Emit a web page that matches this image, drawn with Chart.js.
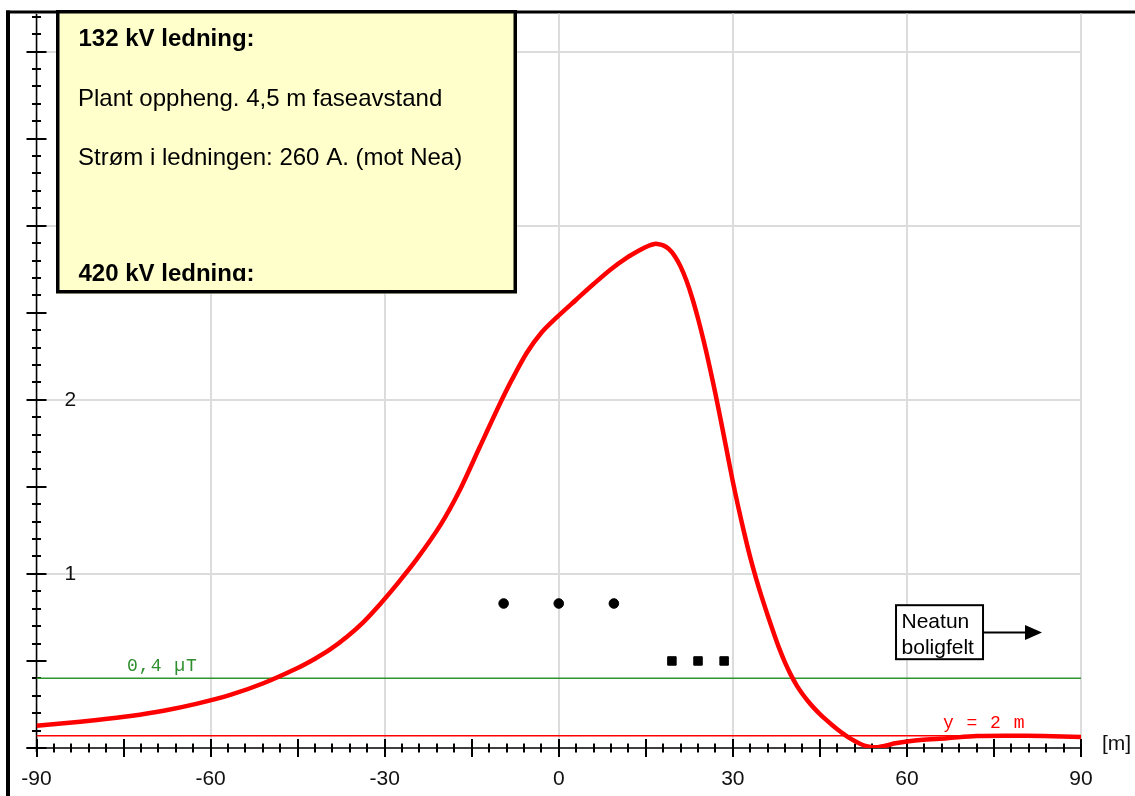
<!DOCTYPE html>
<html lang="no">
<head>
<meta charset="utf-8">
<title>Magnetfelt 132 kV / 420 kV</title>
<script src="https://cdn.jsdelivr.net/npm/chart.js@4.4.1/dist/chart.umd.min.js"></script>
<style>
  html, body { margin: 0; padding: 0; background: #fff; }
  #wrap { width: 1135px; height: 796px; position: relative; }
</style>
</head>
<body>
<div id="wrap"><canvas id="felt"></canvas></div>
<script>
// avstand fra senterlinje [m] og beregnet felt [µT] i 2 m høyde
const DIST_M = [-90, -85.3, -79.6, -73.8, -68.1, -62.3, -56.6, -50.9, -45.1, -42.0,
  -39.4, -36.5, -33.7, -30.8, -27.9, -24.5, -20.4, -17.0, -13.6, -10.1,
  -8.0, -5.5, -3.0, -0.3, 3.0, 6.0, 9.0, 11.7, 14.0, 15.5,
  16.5, 17.0, 18.0, 19.0, 20.0, 21.0, 22.0, 23.0, 24.0, 25.0,
  26.0, 27.0, 28.0, 29.0, 30.0, 31.0, 32.0, 33.0, 34.0, 35.0,
  36.0, 37.0, 38.0, 39.0, 40.0, 41.0, 42.0, 43.0, 44.0, 45.0,
  46.0, 47.0, 48.0, 49.0, 50.0, 51.0, 52.0, 53.0, 54.0, 55.0,
  56.0, 57.0, 58.0, 60.0, 62.3, 66.9, 72.0, 77.8, 83.5, 90];
const FIELD_UT = [0.128, 0.142, 0.161, 0.184, 0.214, 0.255, 0.305, 0.372, 0.458, 0.513,
  0.566, 0.639, 0.722, 0.826, 0.94, 1.083, 1.28, 1.485, 1.73, 1.98,
  2.12, 2.27, 2.385, 2.475, 2.575, 2.665, 2.75, 2.815, 2.86, 2.885,
  2.895, 2.895, 2.887, 2.865, 2.825, 2.765, 2.685, 2.585, 2.467, 2.335,
  2.19, 2.035, 1.87, 1.70, 1.53, 1.375, 1.23, 1.095, 0.975, 0.865,
  0.763, 0.665, 0.572, 0.49, 0.42, 0.36, 0.31, 0.267, 0.229, 0.195,
  0.164, 0.135, 0.108, 0.083, 0.06, 0.04, 0.023, 0.011, 0.005, 0.005,
  0.011, 0.019, 0.027, 0.037, 0.046, 0.056, 0.069, 0.071, 0.069, 0.063];

// faseledere (skjematisk)
const PHASE132_X = [-9.5, 0, 9.5];
const PHASE132_Y = [0.83, 0.83, 0.83];
const PHASE420_X = [19.5, 24, 28.5];
const PHASE420_Y = [0.5, 0.5, 0.5];

const LIMIT_UT = 0.4;      // 0,4 µT linja
const HEIGHT_LINE = 0.07;  // y = 2 m linja

const X_TICKS = [-90, -60, -30, 0, 30, 60, 90];
const Y_TICKS = [1, 2, 3, 4];
const X_MIN = -90, X_MAX = 90, Y_MIN = 0, Y_MAX = 4.219;

const INFO_LINES = ['132 kV ledning:', 'Plant oppheng. 4,5 m faseavstand', 'Strøm i ledningen: 260 A. (mot Nea)', '420 kV ledning:'];
const NEATUN_LINES = ['Neatun', 'boligfelt'];

const SANS = '"Liberation Sans", Arial, sans-serif';
const MONO = '"Courier New", "Liberation Mono", monospace';

const toPoints = (xs, ys) => xs.map((v, i) => ({ x: v, y: ys[i] }));

// ramme, akser med kryssende tikker
const axesPlugin = {
  id: 'axesPlugin',
  beforeDraw(chart) {
    const ctx = chart.ctx;
    ctx.save();
    ctx.fillStyle = '#000';
    ctx.fillRect(6, 10.5, 4, chart.height - 10.5);
    ctx.fillRect(6, 10.5, chart.width - 6, 3);
    ctx.restore();
  },
  beforeDatasetsDraw(chart) {
    const { ctx, scales: { x, y } } = chart;
    const ax = x.getPixelForValue(X_MIN);
    const ay = y.getPixelForValue(0);
    ctx.save();
    ctx.strokeStyle = '#000';
    ctx.lineWidth = 1.5;
    ctx.beginPath();
    ctx.moveTo(ax, chart.chartArea.top);
    ctx.lineTo(ax, ay + 4);
    ctx.moveTo(ax - 10, ay);
    ctx.lineTo(x.getPixelForValue(X_MAX), ay);
    ctx.stroke();

    ctx.lineWidth = 2;
    ctx.beginPath();
    for (let i = 0; i <= 60; i++) {
      const px = Math.round(x.getPixelForValue(X_MIN + i * 3));
      const len = i % 5 === 0 ? 9 : 4.5;
      ctx.moveTo(px, ay - len);
      ctx.lineTo(px, ay + len);
    }
    for (let i = 0; i <= 42; i++) {
      const py = Math.round(y.getPixelForValue(i * 0.1));
      const len = i % 5 === 0 ? 10 : 4.5;
      ctx.moveTo(ax - len, py);
      ctx.lineTo(ax + len, py);
    }
    ctx.stroke();
    ctx.restore();
  },
  afterDraw(chart) {
    const { ctx, scales: { x, y } } = chart;
    ctx.save();

    // enhet på x-aksen
    ctx.fillStyle = '#111';
    ctx.font = '21px ' + SANS;
    ctx.textBaseline = 'middle';
    ctx.textAlign = 'left';
    ctx.fillText('[m]', x.getPixelForValue(X_MAX) + 21, y.getPixelForValue(0) - 4);

    // etiketter på linjene
    ctx.font = '18px ' + MONO;
    ctx.letterSpacing = '1px';
    ctx.fillStyle = '#2f8f2f';
    ctx.fillText('0,4 µT', x.getPixelForValue(-74.4), y.getPixelForValue(LIMIT_UT) - 12.5);
    ctx.fillStyle = '#ff0000';
    ctx.fillText('y = 2 m', x.getPixelForValue(66.2), y.getPixelForValue(HEIGHT_LINE) - 13);
    ctx.letterSpacing = '0px';

    // Neatun boks med pil
    const nx = x.getPixelForValue(57.95), ny = y.getPixelForValue(0.826);
    const nw = 89, nh = 56;
    ctx.fillStyle = '#fff';
    ctx.fillRect(nx, ny, nw, nh);
    ctx.save();
    ctx.beginPath();
    ctx.rect(nx, ny, nw, nh - 2);
    ctx.clip();
    ctx.fillStyle = '#000';
    ctx.font = '21px ' + SANS;
    ctx.textBaseline = 'alphabetic';
    ctx.fillText(NEATUN_LINES[0], nx + 6.5, ny + 23.5);
    ctx.fillText(NEATUN_LINES[1], nx + 6.5, ny + 50);
    ctx.restore();
    ctx.strokeStyle = '#000';
    ctx.lineWidth = 2;
    ctx.strokeRect(nx + 1, ny + 1, nw - 2, nh - 2);
    const arY = ny + 28.3;
    ctx.beginPath();
    ctx.moveTo(nx + nw, arY);
    ctx.lineTo(nx + nw + 42, arY);
    ctx.stroke();
    ctx.fillStyle = '#000';
    ctx.beginPath();
    ctx.moveTo(nx + nw + 41, arY - 7.5);
    ctx.lineTo(nx + nw + 58, arY);
    ctx.lineTo(nx + nw + 41, arY + 7.5);
    ctx.closePath();
    ctx.fill();

    // gul infoboks
    const bx = 56, by = 10, bw = 461, bh = 283.5;
    ctx.fillStyle = '#ffffcc';
    ctx.fillRect(bx, by, bw, bh);
    ctx.save();
    ctx.beginPath();
    ctx.rect(bx, by, bw, 271);
    ctx.clip();
    ctx.fillStyle = '#000';
    ctx.textBaseline = 'alphabetic';
    ctx.font = 'bold 24px ' + SANS;
    ctx.fillText(INFO_LINES[0], 78.5, 46);
    ctx.font = '24px ' + SANS;
    ctx.fillText(INFO_LINES[1], 78, 105.5);
    ctx.fillText(INFO_LINES[2], 78, 165);
    ctx.font = 'bold 24px ' + SANS;
    ctx.fillText(INFO_LINES[3], 78.5, 280.5);
    ctx.restore();
    ctx.strokeStyle = '#000';
    ctx.lineWidth = 3.5;
    ctx.strokeRect(bx + 1.75, by + 1.75, bw - 3.5, bh - 3.5);

    ctx.restore();
  }
};

new Chart(document.getElementById('felt'), {
  type: 'scatter',
  data: {
    datasets: [
      {
        label: 'Magnetfelt',
        data: toPoints(DIST_M, FIELD_UT),
        showLine: true,
        borderColor: '#ff0000',
        borderWidth: 4.5,
        pointRadius: 0,
        tension: 0.3,
        order: 0
      },
      {
        label: '132 kV',
        data: toPoints(PHASE132_X, PHASE132_Y),
        backgroundColor: '#000',
        borderColor: '#000',
        pointStyle: 'circle',
        pointRadius: 4.8,
        order: 0
      },
      {
        label: '420 kV',
        data: toPoints(PHASE420_X, PHASE420_Y),
        backgroundColor: '#000',
        borderColor: '#000',
        pointStyle: 'rect',
        pointRadius: 6,
        order: 0
      },
      {
        label: '0,4 µT',
        data: toPoints([X_MIN, X_MAX], [LIMIT_UT, LIMIT_UT]),
        showLine: true,
        borderColor: '#2f962f',
        borderWidth: 1.5,
        pointRadius: 0,
        order: 2
      },
      {
        label: 'y = 2 m',
        data: toPoints([X_MIN, X_MAX], [HEIGHT_LINE, HEIGHT_LINE]),
        showLine: true,
        borderColor: '#ff0000',
        borderWidth: 1.5,
        pointRadius: 0,
        order: 2
      }
    ]
  },
  options: {
    responsive: true,
    maintainAspectRatio: false,
    animation: false,
    layout: { padding: { left: 36.5, right: 54, top: 13.5, bottom: 0 } },
    plugins: { legend: { display: false }, tooltip: { enabled: false } },
    scales: {
      x: {
        type: 'linear',
        min: X_MIN,
        max: X_MAX,
        afterBuildTicks: s => { s.ticks = X_TICKS.map(v => ({ value: v })); },
        afterFit: s => { s.height = 48; s.paddingLeft = 0; s.paddingRight = 0; },
        grid: { color: '#dcdcdc', lineWidth: 2, drawTicks: false },
        border: { display: false },
        ticks: {
          padding: 19,
          color: '#111',
          font: { family: SANS, size: 21 },
          maxRotation: 0,
          autoSkip: false
        }
      },
      y: {
        type: 'linear',
        min: Y_MIN,
        max: Y_MAX,
        afterBuildTicks: s => { s.ticks = Y_TICKS.map(v => ({ value: v })); },
        afterFit: s => { s.width = 0; s.paddingTop = 0; s.paddingBottom = 0; },
        grid: { color: '#dcdcdc', lineWidth: 2, drawTicks: false },
        border: { display: false },
        ticks: {
          mirror: true,
          padding: 28,
          color: '#111',
          font: { family: SANS, size: 21 }
        }
      }
    }
  },
  plugins: [axesPlugin]
});
</script>
</body>
</html>
